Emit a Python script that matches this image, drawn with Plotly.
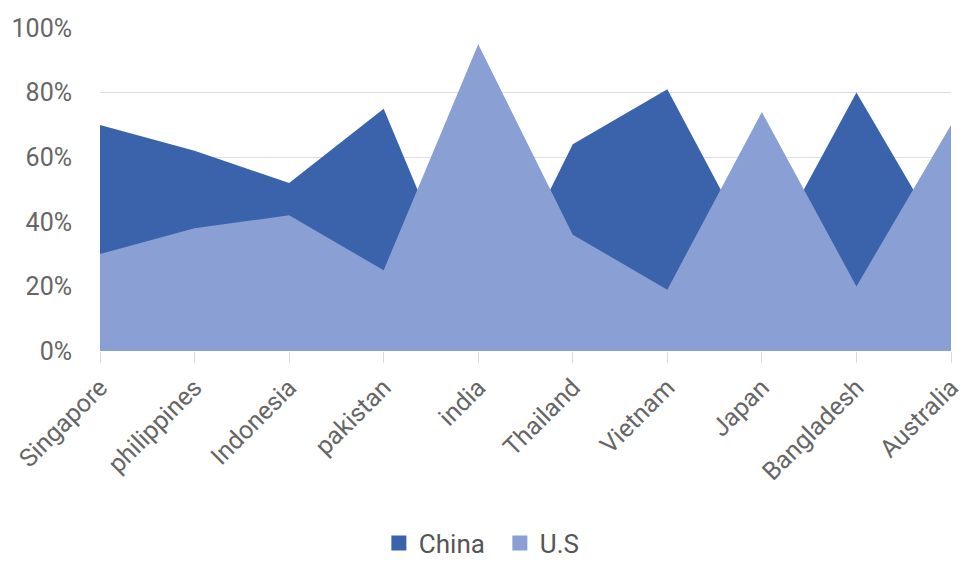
import plotly.graph_objects as go

countries = ["Singapore", "philippines", "Indonesia", "pakistan", "india",
             "Thailand", "Vietnam", "Japan", "Bangladesh", "Australia"]
china = [70, 62, 52, 75, 5, 64, 81, 26, 80, 30]
us = [30, 38, 42, 25, 95, 36, 19, 74, 20, 70]
y_ticks = [0, 20, 40, 60, 80, 100]
y_labels = ["0%", "20%", "40%", "60%", "80%", "100%"]

CHINA_COLOR = "#3A63AC"
US_COLOR = "#8A9FD4"

fig = go.Figure()
fig.add_trace(go.Scatter(x=countries, y=china, name="China", mode="lines",
                         fill="tozeroy", fillcolor=CHINA_COLOR,
                         line=dict(width=0, color=CHINA_COLOR), showlegend=False))
fig.add_trace(go.Scatter(x=countries, y=us, name="U.S", mode="lines",
                         fill="tozeroy", fillcolor=US_COLOR,
                         line=dict(width=0, color=US_COLOR), showlegend=False))
# legend entries with square markers
fig.add_trace(go.Scatter(x=[None], y=[None], name="China", mode="markers",
                         marker=dict(symbol="square", size=15, color=CHINA_COLOR)))
fig.add_trace(go.Scatter(x=[None], y=[None], name="U.S", mode="markers",
                         marker=dict(symbol="square", size=15, color=US_COLOR)))

fig.update_layout(
    width=974, height=579,
    margin=dict(l=92, r=31, t=20, b=236),
    plot_bgcolor="white", paper_bgcolor="white",
    font=dict(family="Roboto", size=24, color="#666666"),
    legend=dict(orientation="h", xref="container", yref="container",
                x=0.505, y=0.076, xanchor="center", yanchor="middle",
                font=dict(size=26, color="#555555"), itemwidth=30,
                entrywidth=76, tracegroupgap=0),
)
fig.update_xaxes(type="category", range=[0, len(countries) - 1],
                 tickangle=-45, ticks="outside", ticklen=11, tickcolor="#d9d9d9",
                 showgrid=False, showline=False, zeroline=False, automargin=False,
                 tickfont=dict(size=25, color="#666666"))
fig.update_yaxes(range=[0, 100], tickvals=y_ticks, ticktext=y_labels,
                 showgrid=True, gridcolor="#dddddd", gridwidth=1,
                 zeroline=False, showline=False, ticks="", automargin=False,
                 ticklabelstandoff=27,
                 tickfont=dict(size=25, color="#666666"))

fig.write_html("out.html")
